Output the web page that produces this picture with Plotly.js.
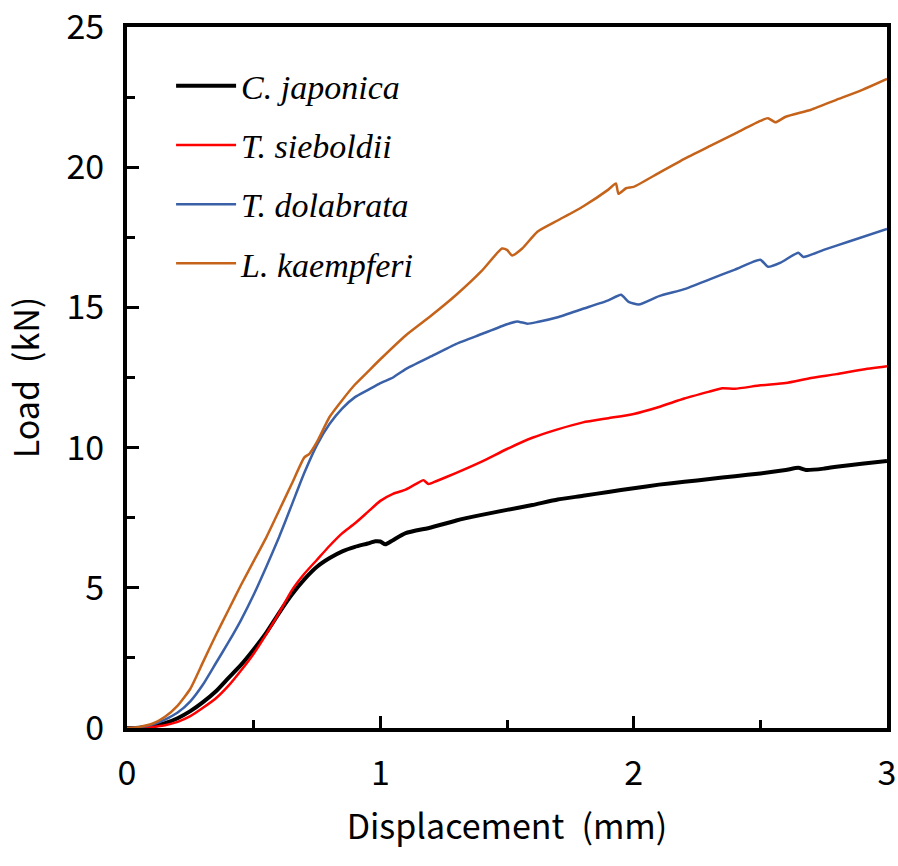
<!DOCTYPE html>
<html>
<head>
<meta charset="utf-8">
<script src="https://cdn.plot.ly/plotly-3.0.1.min.js"></script>
<style>
  body { margin: 0; background: #fff; }
  #chart { width: 898px; height: 866px; }
</style>
</head>
<body>
<div id="chart"></div>
<script>
// Load-displacement curves
const speciesNames = ['C. japonica', 'T. sieboldii', 'T. dolabrata', 'L. kaempferi'];
const speciesColors = ['#000000', '#ff0000', '#3a60a8', '#c5631a'];
const lineWidths = [4, 2.5, 2.5, 2.5];

const japonicaX = [0, 0.05, 0.1, 0.15, 0.2, 0.25, 0.3, 0.35, 0.4, 0.45, 0.5, 0.55, 0.6, 0.65, 0.7, 0.75, 0.8, 0.85, 0.9, 0.95, 0.98, 1.0, 1.02, 1.05, 1.1, 1.2, 1.3, 1.4, 1.5, 1.6, 1.7, 1.8, 1.9, 2.0, 2.1, 2.2, 2.3, 2.4, 2.5, 2.6, 2.65, 2.68, 2.75, 2.8, 2.9, 3.0];
const japonicaY = [0, 0.01, 0.06, 0.17, 0.35, 0.6, 0.92, 1.3, 1.78, 2.25, 2.8, 3.4, 4.1, 4.75, 5.3, 5.75, 6.06, 6.3, 6.46, 6.58, 6.66, 6.65, 6.55, 6.7, 6.95, 7.15, 7.4, 7.6, 7.78, 7.95, 8.15, 8.28, 8.42, 8.55, 8.68, 8.78, 8.88, 8.98, 9.08, 9.2, 9.28, 9.2, 9.25, 9.32, 9.42, 9.52];

const sieboldiiX = [0, 0.05, 0.1, 0.15, 0.2, 0.25, 0.3, 0.35, 0.4, 0.45, 0.5, 0.55, 0.6, 0.65, 0.7, 0.75, 0.8, 0.85, 0.9, 0.95, 1.0, 1.05, 1.1, 1.15, 1.17, 1.19, 1.22, 1.3, 1.4, 1.5, 1.6, 1.7, 1.8, 1.9, 2.0, 2.1, 2.2, 2.3, 2.35, 2.4, 2.5, 2.6, 2.7, 2.8, 2.9, 3.0];
const sieboldiiY = [0, 0.01, 0.04, 0.1, 0.22, 0.42, 0.72, 1.05, 1.5, 2.05, 2.65, 3.35, 4.1, 4.9, 5.5, 6.0, 6.5, 6.95, 7.3, 7.7, 8.1, 8.35, 8.5, 8.75, 8.84, 8.7, 8.8, 9.1, 9.5, 9.95, 10.35, 10.65, 10.9, 11.05, 11.2, 11.45, 11.75, 12.0, 12.12, 12.1, 12.22, 12.3, 12.48, 12.62, 12.78, 12.9];

const dolabrataX = [0, 0.05, 0.1, 0.15, 0.2, 0.25, 0.3, 0.35, 0.4, 0.45, 0.5, 0.55, 0.6, 0.65, 0.7, 0.75, 0.8, 0.85, 0.9, 0.95, 1.0, 1.05, 1.1, 1.2, 1.3, 1.4, 1.5, 1.54, 1.58, 1.62, 1.7, 1.8, 1.9, 1.95, 1.98, 2.02, 2.1, 2.2, 2.3, 2.4, 2.5, 2.53, 2.58, 2.65, 2.67, 2.75, 2.85, 3.0];
const dolabrataY = [0, 0.03, 0.12, 0.3, 0.55, 0.95, 1.55, 2.3, 3.05, 3.85, 4.75, 5.75, 6.8, 7.95, 9.1, 10.1, 10.85, 11.4, 11.8, 12.05, 12.3, 12.5, 12.8, 13.25, 13.7, 14.05, 14.4, 14.5, 14.42, 14.48, 14.65, 14.95, 15.25, 15.45, 15.2, 15.1, 15.4, 15.65, 16.0, 16.35, 16.7, 16.45, 16.6, 16.95, 16.8, 17.05, 17.35, 17.8];

const kaempferiX = [0, 0.05, 0.1, 0.15, 0.2, 0.25, 0.3, 0.35, 0.4, 0.45, 0.5, 0.55, 0.6, 0.65, 0.7, 0.72, 0.75, 0.8, 0.85, 0.9, 0.95, 1.0, 1.1, 1.2, 1.3, 1.4, 1.48, 1.5, 1.52, 1.56, 1.62, 1.7, 1.8, 1.9, 1.93, 1.94, 1.97, 2.0, 2.1, 2.2, 2.3, 2.4, 2.5, 2.53, 2.56, 2.6, 2.7, 2.8, 2.9, 3.0];
const kaempferiY = [0, 0.04, 0.15, 0.4, 0.8, 1.4, 2.35, 3.3, 4.2, 5.1, 5.95, 6.8, 7.75, 8.7, 9.65, 9.78, 10.2, 11.1, 11.7, 12.25, 12.7, 13.15, 14.0, 14.7, 15.45, 16.3, 17.1, 17.05, 16.85, 17.1, 17.7, 18.1, 18.6, 19.2, 19.42, 19.05, 19.25, 19.3, 19.8, 20.3, 20.75, 21.2, 21.65, 21.75, 21.6, 21.8, 22.05, 22.4, 22.75, 23.15];

const xs = [japonicaX, sieboldiiX, dolabrataX, kaempferiX];
const ys = [japonicaY, sieboldiiY, dolabrataY, kaempferiY];

const axisFont = { family: '"Noto Sans CJK KR", "Noto Sans", sans-serif', size: 34, color: '#000' };

const traces = speciesNames.map((name, i) => ({
    x: xs[i],
    y: ys[i],
    name: name,
    legendgroup: 'g' + i,
    mode: 'lines',
    type: 'scatter',
    line: { color: speciesColors[i], width: lineWidths[i], shape: 'spline', smoothing: 0.5 },
    hoverinfo: 'skip'
}));

function axisStyle(range, dtick, minorDtick, titleText, standoff) {
    return {
        range: range,
        dtick: dtick,
        ticks: 'inside',
        ticklen: 12,
        tickwidth: 3,
        tickcolor: '#000',
        ticklabelstandoff: 12,
        ticklabeloverflow: 'allow',
        showline: true,
        linewidth: 4,
        linecolor: '#000',
        mirror: true,
        showgrid: false,
        zeroline: false,
        tickfont: axisFont,
        minor: { dtick: minorDtick, ticks: 'inside', ticklen: 8, tickwidth: 3, tickcolor: '#000', showgrid: false },
        title: { text: titleText, font: axisFont, standoff: standoff }
    };
}

const layout = {
    width: 898,
    height: 866,
    paper_bgcolor: '#ffffff',
    plot_bgcolor: '#ffffff',
    margin: { l: 127, r: 11, t: 27, b: 138 },
    showlegend: true,
    legend: {
        x: 0.058,
        y: 0.957,
        xanchor: 'left',
        yanchor: 'top',
        bgcolor: 'rgba(0,0,0,0)',
        itemwidth: 60,
        font: { family: '"Liberation Serif", serif', size: 34, style: 'italic', color: '#000' },
        tracegroupgap: 12
    },
    xaxis: axisStyle([0, 3], 1, 0.5, 'Displacement\u2002(mm)', 22),
    yaxis: axisStyle([0, 25], 5, 2.5, 'Load\u2002(kN)', 32)
};

Plotly.newPlot('chart', traces, layout, { staticPlot: true }).then(() => {
    // stretch the legend line samples to match the longer keys of the figure
    document.querySelectorAll('.legendlines path').forEach(p => p.setAttribute('d', 'M5,0h60'));
});
</script>
</body>
</html>
